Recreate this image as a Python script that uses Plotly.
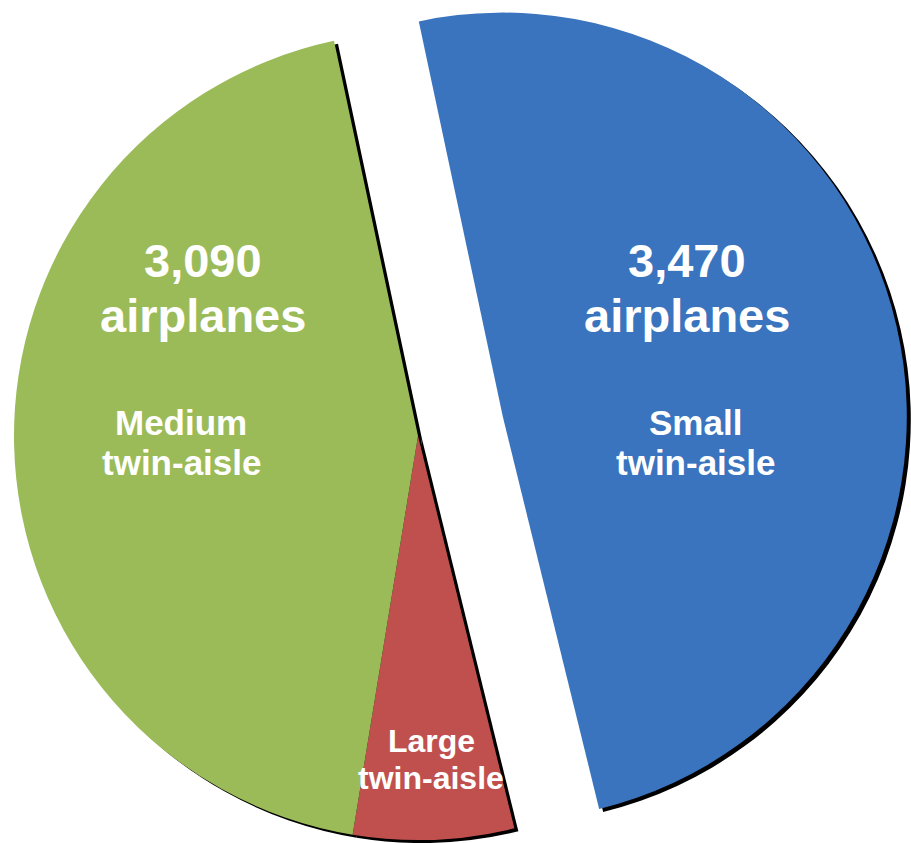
import math
import plotly.graph_objects as go

# Twin-aisle demand by size class
categories = ["Small twin-aisle", "Large twin-aisle", "Medium twin-aisle"]
airplanes = [3470, 450, 3090]
name_lines = [["Small", "twin-aisle"], ["Large", "twin-aisle"], ["Medium", "twin-aisle"]]
slice_colors = ["#3A74BE", "#C0504D", "#9BBB59"]

W, H = 911, 843
R = 404                 # pie radius in px
CENTER = (418, 436)     # centre of the un-exploded part
START = -12             # first slice edge, degrees clockwise from 12 o'clock
PULL = 87               # exploded slice offset in px
SHADOW = (4, 3)         # drop shadow offset in px
CLEAR = "rgba(0,0,0,0)"

total = sum(airplanes)
mid_angle = math.radians(START + 180 * airplanes[0] / total)
BLUE_CENTER = (CENTER[0] + PULL * math.sin(mid_angle),
               CENTER[1] - PULL * math.cos(mid_angle))


def domain(cx, cy, r=R):
    return dict(x=[(cx - r) / W, (cx + r) / W],
                y=[1 - (cy + r) / H, 1 - (cy - r) / H])


def pie(center, colors):
    return go.Pie(
        labels=categories, values=airplanes, sort=False,
        direction="clockwise", rotation=START,
        marker=dict(colors=colors, line=dict(width=0)),
        textinfo="none", hoverinfo="skip", showlegend=False,
        domain=domain(*center),
    )


shift = lambda c: (c[0] + SHADOW[0], c[1] + SHADOW[1])

fig = go.Figure()
# black drop shadows
fig.add_trace(pie(shift(CENTER), [CLEAR, "black", "black"]))
fig.add_trace(pie(shift(BLUE_CENTER), ["black", CLEAR, CLEAR]))
# slices: medium + large in place, small exploded
fig.add_trace(pie(CENTER, [CLEAR, slice_colors[1], slice_colors[2]]))
fig.add_trace(pie(BLUE_CENTER, [slice_colors[0], CLEAR, CLEAR]))

FONT = "Liberation Sans, Arial, sans-serif"


def text(x, y, s, size):
    fig.add_annotation(
        x=x / W, y=1 - y / H, xref="paper", yref="paper",
        text=s, showarrow=False, xanchor="center", yanchor="middle",
        font=dict(family=FONT, size=size, color="white", weight="bold"),
    )


# value + name labels (x centre, baselines in px)
value_pos = {0: (687, 277, 332), 2: (203, 277, 332)}
name_pos = {0: (695, 435, 475), 2: (181, 435, 475)}
BIG, SMALL = 47, 35

for i, (x, b1, b2) in value_pos.items():
    text(x, b1 - 0.35 * BIG, f"{airplanes[i]:,}", BIG)
    text(x, b2 - 0.35 * BIG, "airplanes", BIG)

for i, (x, b1, b2) in name_pos.items():
    text(x, b1 - 0.35 * SMALL, name_lines[i][0], SMALL)
    text(x, b2 - 0.35 * SMALL, name_lines[i][1], SMALL)

# the narrow slice gets a slightly tighter label
LARGE_SIZE = 32
text(431, 752 - 0.35 * LARGE_SIZE, name_lines[1][0], LARGE_SIZE)
text(431, 789 - 0.35 * LARGE_SIZE, name_lines[1][1], LARGE_SIZE)

fig.update_layout(
    width=W, height=H,
    margin=dict(l=0, r=0, t=0, b=0),
    paper_bgcolor="white", plot_bgcolor="white",
    showlegend=False,
)

fig.write_html("out.html")
